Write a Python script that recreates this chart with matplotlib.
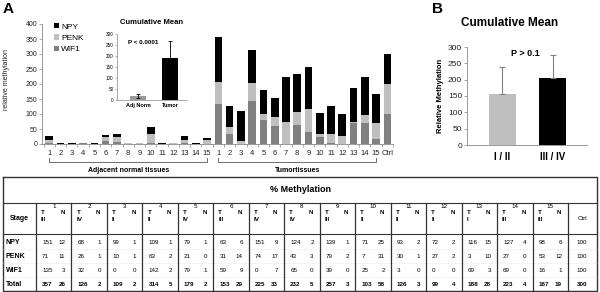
import numpy as np
import matplotlib
matplotlib.use("Agg")
import matplotlib.pyplot as plt
import matplotlib.transforms as mtransforms

plt.rcParams['font.family'] = ['Liberation Sans', 'DejaVu Sans']

# ---- table data (% methylation), T = tumour, N = adjacent normal ----
SAMPLES = [str(i) for i in range(1, 16)]
STAGES = ["III", "IV", "II", "II", "IV", "III", "IV", "IV", "III", "II", "II", "II", "I", "III", "III"]
NPY_T = [151, 68, 99, 109, 79, 63, 151, 124, 139, 71, 93, 72, 116, 127, 98]
NPY_N = [12, 1, 1, 1, 1, 6, 9, 2, 1, 25, 2, 2, 15, 4, 6]
PENK_T = [71, 26, 10, 63, 21, 31, 74, 43, 79, 7, 30, 27, 3, 27, 53]
PENK_N = [11, 1, 1, 2, 0, 14, 17, 3, 2, 31, 1, 2, 10, 0, 12]
WIF1_T = [135, 32, 0, 142, 79, 59, 0, 65, 39, 25, 3, 0, 69, 69, 16]
WIF1_N = [3, 0, 0, 2, 1, 9, 7, 0, 0, 2, 0, 0, 3, 0, 1]
TOTAL_T = [357, 126, 109, 314, 179, 153, 225, 232, 257, 103, 126, 99, 188, 223, 167]
TOTAL_N = [26, 2, 2, 5, 2, 29, 33, 5, 3, 58, 3, 4, 28, 4, 19]
CTRL = [100, 100, 100, 300]   # NPY, PENK, WIF1, Total
ROW_NAMES = ["NPY", "PENK", "WIF1", "Total"]

# ---- inset (A) and panel B ----
INSET_GROUPS = ["Adj Norm", "Tumor"]
INSET_MEAN = [16, 190]
INSET_ERR_LO = [8, 0]
INSET_ERR_HI = [12, 78]
B_GROUPS = ["I / II", "III / IV"]
B_MEAN = [155, 205]
B_ERR = [85, 70]

C_NPY, C_PENK, C_WIF1 = "black", "#bfbfbf", "#808080"

W, H = 600, 292
fig = plt.figure(figsize=(W / 100, H / 100), dpi=100)


def fx(px):
    return px / W


def fy(py):
    return 1 - py / H


# ---- panel A main stacked bars ----
ax = fig.add_axes([fx(42), fy(144), (393 - 42) / W, (144 - 24) / H])
npy = NPY_N + NPY_T + [CTRL[0]]
penk = PENK_N + PENK_T + [CTRL[1]]
wif1 = WIF1_N + WIF1_T + [CTRL[2]]
labels = SAMPLES + SAMPLES + ["Ctrl"]
x = np.arange(len(npy))
bw = 0.68
b1 = ax.bar(x, wif1, bw, color=C_WIF1, label="WIF1")
b2 = ax.bar(x, penk, bw, bottom=wif1, color=C_PENK, label="PENK")
b3 = ax.bar(x, npy, bw, bottom=np.add(wif1, penk), color=C_NPY, label="NPY")
ax.set_xlim(-0.65, len(x) - 0.55)
ax.set_ylim(0, 400)
ax.set_yticks(np.arange(0, 401, 50))
ax.tick_params(axis="y", labelsize=5, length=2, width=0.5, color="#888", pad=1.5, labelcolor="#222")
ax.set_xticks(x, labels)
ax.tick_params(axis="x", labelsize=5.5, length=0, pad=4, labelcolor="#222")
ax.set_xticks(np.arange(len(x) + 1) - 0.5, minor=True)
ax.tick_params(axis="x", which="minor", length=2, width=0.5, color="#888")
for s in ["top", "right"]:
    ax.spines[s].set_visible(False)
for s in ["left", "bottom"]:
    ax.spines[s].set_color("#888")
    ax.spines[s].set_linewidth(0.6)

ax.legend([b3, b2, b1], ["NPY", "PENK", "WIF1"], loc="upper left",
          bbox_to_anchor=(fx(54), fy(23)), bbox_transform=fig.transFigure,
          frameon=False, fontsize=6, handlelength=0.6, handleheight=0.6,
          handletextpad=0.25, labelspacing=0.45, borderpad=0, borderaxespad=0)

blend = mtransforms.blended_transform_factory(ax.transData, fig.transFigure)
for a, b, name in [(0, 14, "Adjacent normal tissues"), (15, 29, "Tumortissues")]:
    ax.plot([a, a, b, b], [fy(158), fy(162), fy(162), fy(158)], transform=blend,
            color="#555", lw=0.6, clip_on=False)
    ax.text((a + b) / 2, fy(170), name, transform=blend, ha="center", va="center",
            fontsize=5, fontweight="bold")

fig.text(fx(7), fy(80), "relative methylation", rotation=90, ha="center", va="center",
         fontsize=5, color="#222")
fig.text(fx(3), fy(9), "A", fontsize=11, fontweight="bold", va="center")

# ---- inset cumulative mean ----
ins = fig.add_axes([fx(117), fy(100), 70 / W, 66 / H])
ins.bar([0, 1], INSET_MEAN, 0.5, color=["#999999", "black"])
ins.errorbar([0, 1], INSET_MEAN, yerr=[INSET_ERR_LO, INSET_ERR_HI], fmt="none",
             ecolor="black", elinewidth=0.6, capsize=1.5, capthick=0.6)
ins.set_xlim(-0.66, 1.53)
ins.set_ylim(0, 300)
ins.set_yticks(np.arange(0, 301, 50))
ins.tick_params(axis="y", labelsize=3.3, length=1.5, width=0.4, color="#888", pad=1)
ins.set_xticks([0, 1], INSET_GROUPS)
ins.tick_params(axis="x", labelsize=4, length=0, pad=2)
for t in ins.get_xticklabels():
    t.set_fontweight("bold")
for s in ["top", "right"]:
    ins.spines[s].set_visible(False)
for s in ["left", "bottom"]:
    ins.spines[s].set_color("#888")
    ins.spines[s].set_linewidth(0.5)
ins.text(-0.31, 262, "P < 0.0001", fontsize=4.5, fontweight="bold", va="center")
fig.text(fx(152), fy(23), "Cumulative Mean", fontsize=5.5, fontweight="bold",
         ha="center", va="center")

# ---- panel B ----
axB = fig.add_axes([fx(467), fy(145), 120 / W, 98 / H])
axB.bar([0, 1], B_MEAN, 0.53, color=["#bfbfbf", "black"])
axB.errorbar([0, 1], B_MEAN, yerr=[[0, 0], B_ERR], fmt="none", ecolor="#808080",
             elinewidth=0.8, capsize=2, capthick=0.8)
axB.set_xlim(-0.69, 1.67)
axB.set_ylim(0, 300)
axB.set_yticks(np.arange(0, 301, 50))
axB.tick_params(axis="y", labelsize=6, length=2, width=0.5, color="#888", pad=1.5, labelcolor="#222")
axB.set_xticks([0, 1], B_GROUPS)
axB.tick_params(axis="x", labelsize=7, length=0, pad=5)
for t in axB.get_xticklabels():
    t.set_fontweight("bold")
for s in ["top", "right"]:
    axB.spines[s].set_visible(False)
for s in ["left", "bottom"]:
    axB.spines[s].set_color("#888")
    axB.spines[s].set_linewidth(0.6)
axB.set_ylabel("Relative Methylation", fontsize=5.5, fontweight="bold", labelpad=3)
axB.text(0.45, 280, "P > 0.1", fontsize=6.5, fontweight="bold", ha="center", va="center")
fig.text(fx(510), fy(23), "Cumulative Mean", fontsize=8.5, fontweight="bold",
         ha="center", va="center")
fig.text(fx(432), fy(9), "B", fontsize=11, fontweight="bold", va="center")

# ---- table ----
ov = fig.add_axes([0, 0, 1, 1])
ov.set_xlim(0, W)
ov.set_ylim(H, 0)
ov.axis("off")
lc = "#333"
ov.plot([3, 597, 597, 3, 3], [177, 177, 291, 291, 177], color=lc, lw=1)
ov.plot([3, 597], [203, 203], color=lc, lw=0.8)
ov.plot([3, 597], [234, 234], color=lc, lw=0.8)
for yy in [249, 263, 277]:
    ov.plot([3, 597], [yy, yy], color="#ccc", lw=0.4, ls=":")
edges = np.linspace(36, 568, 16)
for e in edges:
    ov.plot([e, e], [203, 291], color=lc, lw=0.9)
ov.text(300, 190, "% Methylation", fontsize=6.5, fontweight="bold", ha="center", va="center")
ov.text(19, 219, "Stage", fontsize=5, fontweight="bold", ha="center", va="center")
row_y = [243, 257, 271, 285]
for name, yy in zip(ROW_NAMES, row_y):
    ov.text(6, yy, name, fontsize=5, fontweight="bold", ha="left", va="center")

tv = [NPY_T, PENK_T, WIF1_T, TOTAL_T]
nv = [NPY_N, PENK_N, WIF1_N, TOTAL_N]
fs = 4.5
for k in range(15):
    x0, x1 = edges[k], edges[k + 1]
    xc = (x0 + x1) / 2
    ov.text(xc, 206, SAMPLES[k], fontsize=fs, ha="center", va="center")
    ov.text(x0 + 5, 212.5, "T", fontsize=fs, fontweight="bold", ha="left", va="center")
    ov.text(x1 - 9, 212.5, "N", fontsize=fs, fontweight="bold", ha="center", va="center")
    ov.text(x0 + 5, 219.5, STAGES[k], fontsize=fs, fontweight="bold", ha="left", va="center")
    for r, yy in enumerate(row_y):
        bold = "bold" if r == 3 else "normal"
        ov.text(x0 + 6, yy, str(tv[r][k]), fontsize=fs, fontweight=bold, ha="left", va="center")
        ov.text(x1 - 6, yy, str(nv[r][k]), fontsize=fs, fontweight=bold, ha="right", va="center")
ov.text(582, 219, "Ctrl", fontsize=fs, ha="center", va="center")
for r, yy in enumerate(row_y):
    ov.text(582, yy, str(CTRL[r]), fontsize=fs, fontweight="bold" if r == 3 else "normal",
            ha="center", va="center")

fig.savefig("out.png", dpi=100)
